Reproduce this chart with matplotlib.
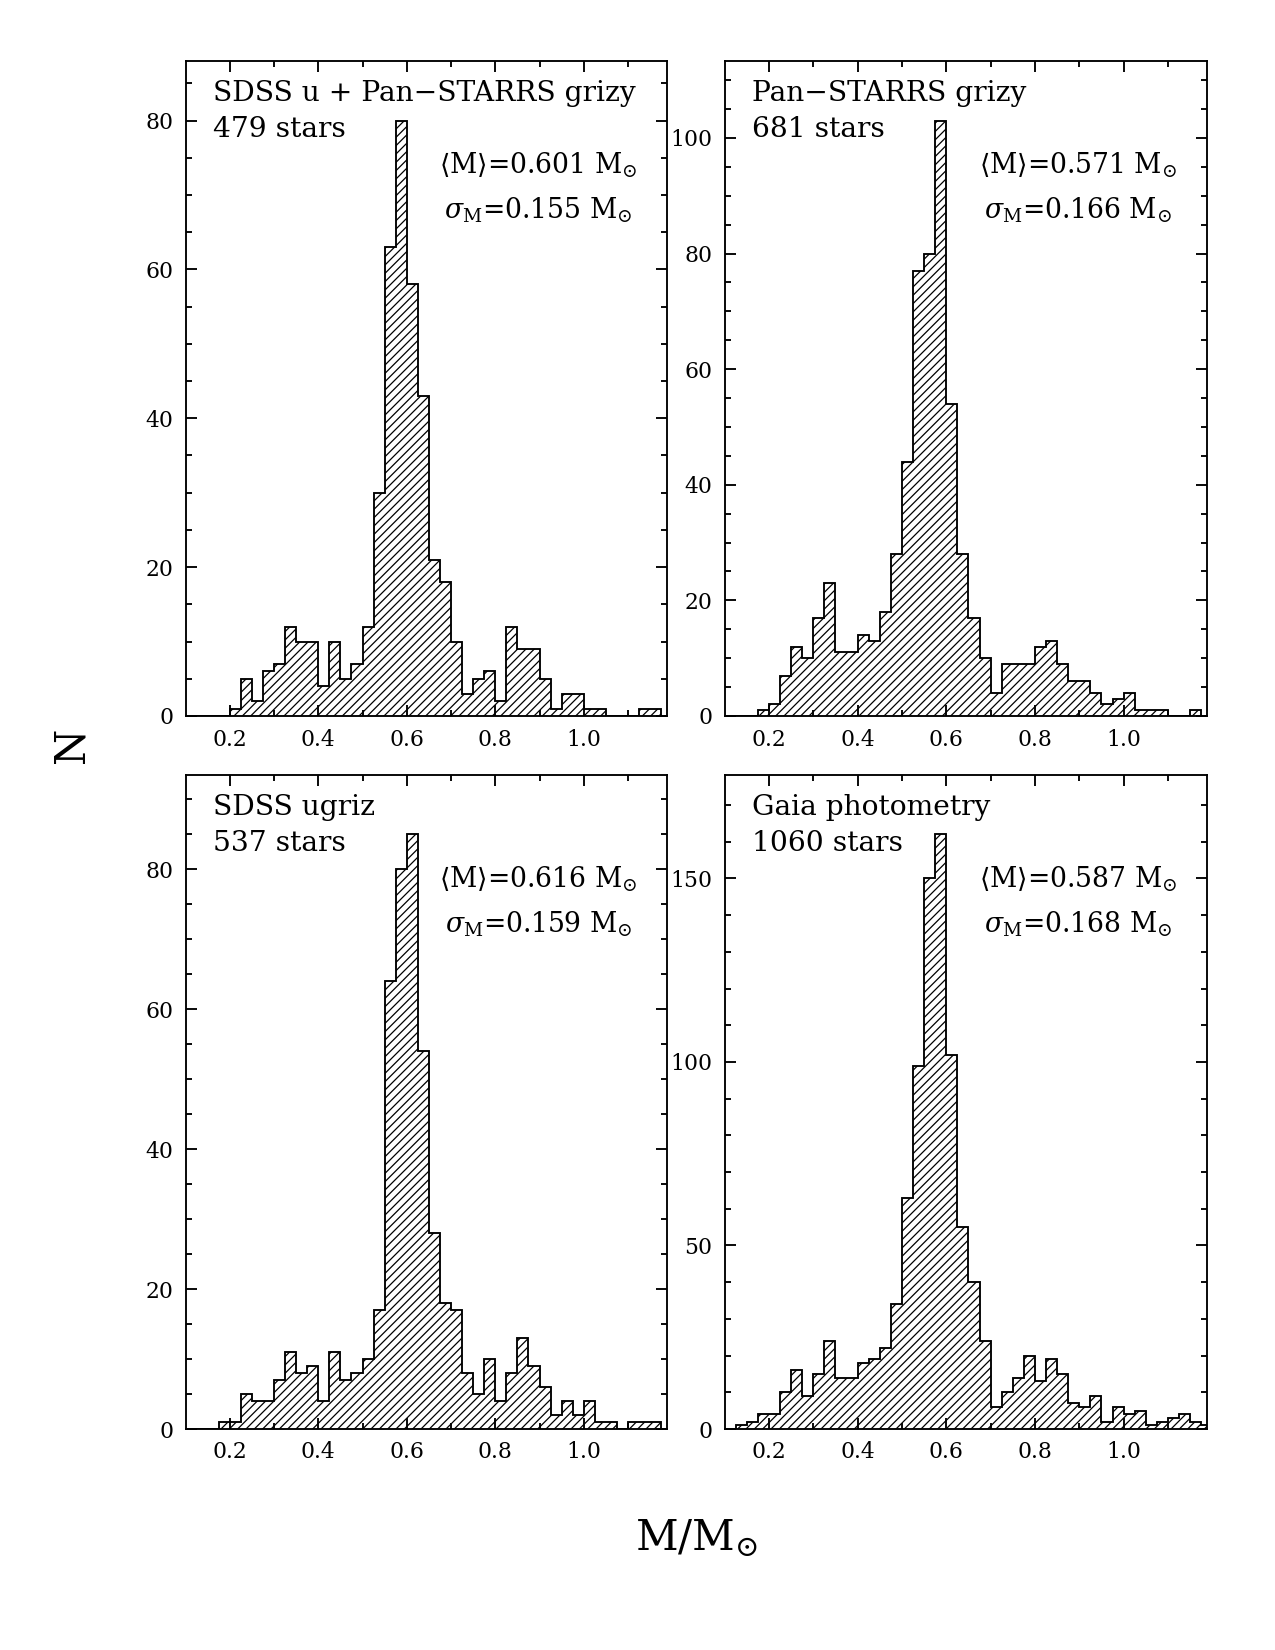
import numpy as np
import matplotlib
matplotlib.use("Agg")
import matplotlib.pyplot as plt
from matplotlib.ticker import MultipleLocator, FuncFormatter

plt.rcParams['mathtext.fontset'] = 'dejavuserif'
plt.rcParams['hatch.linewidth'] = 0.6
plt.rcParams['font.family'] = ['DejaVu Serif']

# Bin left edges start at 0.100, width 0.025 (44 bins up to 1.2)
bin_start = 0.100
bin_width = 0.025

counts_sdss_ps = [0, 0, 0, 0,
                  1, 5, 2, 6, 7, 12, 10, 10, 4, 10, 5, 7, 12, 30, 63, 80, 58, 43, 21, 18,
                  10, 3, 5, 6, 2, 12, 9, 9, 5, 1, 3, 3, 1, 1, 0, 0, 0, 1, 1, 0]
counts_ps = [0, 0, 0, 1,
             2, 7, 12, 10, 17, 23, 11, 11, 14, 13, 18, 28, 44, 77, 80, 103, 54, 28, 17, 10,
             4, 9, 9, 9, 12, 13, 9, 6, 6, 4, 2, 3, 4, 1, 1, 1, 0, 0, 1, 0]
counts_sdss = [0, 0, 0, 1,
               1, 5, 4, 4, 7, 11, 8, 9, 4, 11, 7, 8, 10, 17, 64, 80, 85, 54, 28, 18,
               17, 8, 5, 10, 4, 8, 13, 9, 6, 2, 4, 2, 4, 1, 1, 0, 1, 1, 1, 0]
counts_gaia = [0, 1, 2, 4,
               4, 10, 16, 9, 15, 24, 14, 14, 18, 19, 22, 34, 63, 99, 150, 162, 102, 55, 40, 24,
               6, 10, 14, 20, 13, 19, 15, 7, 6, 9, 2, 6, 4, 5, 1, 2, 3, 4, 2, 1]

titles = ["SDSS u + Pan\u2212STARRS grizy", "Pan\u2212STARRS grizy", "SDSS ugriz", "Gaia photometry"]
nstars = ["479 stars", "681 stars", "537 stars", "1060 stars"]
mean_mass = ["0.601", "0.571", "0.616", "0.587"]
sigma_mass = ["0.155", "0.166", "0.159", "0.168"]
all_counts = [counts_sdss_ps, counts_ps, counts_sdss, counts_gaia]
ymajor = [20, 20, 20, 50]
yminor = [5, 5, 5, 10]

fig = plt.figure(figsize=(8.5, 11), dpi=150)
W, H = 1275.0, 1650.0
boxes = [(186, 61, 667, 716), (725, 61, 1207, 716),
         (186, 775, 667, 1429), (725, 775, 1207, 1429)]

serif = "DejaVu Serif"
for i, (x0, y0, x1, y1) in enumerate(boxes):
    ax = fig.add_axes([x0 / W, 1 - y1 / H, (x1 - x0) / W, (y1 - y0) / H])
    c = np.array(all_counts[i], dtype=float)
    edges = bin_start + bin_width * np.arange(len(c) + 1)
    ax.stairs(c, edges, baseline=0, fill=True, facecolor='white',
              edgecolor='black', hatch='//////', linewidth=0)
    ax.stairs(c, edges, baseline=0, fill=False, color='black', linewidth=0.9)
    ax.set_xlim(0.101, 1.188)
    ax.set_ylim(0, 1.1 * c.max())
    ax.xaxis.set_major_locator(MultipleLocator(0.2))
    ax.xaxis.set_minor_locator(MultipleLocator(0.1))
    ax.yaxis.set_major_locator(MultipleLocator(ymajor[i]))
    ax.yaxis.set_minor_locator(MultipleLocator(yminor[i]))
    ax.xaxis.set_major_formatter(FuncFormatter(lambda v, p: f"{v:.1f}"))
    ax.yaxis.set_major_formatter(FuncFormatter(lambda v, p: f"{v:.0f}"))
    ax.tick_params(which='both', direction='in', top=True, right=True,
                   labelsize=10.5, width=0.9)
    ax.tick_params(which='major', length=5.5, pad=6)
    ax.tick_params(which='minor', length=2.8)
    for s in ax.spines.values():
        s.set_linewidth(0.9)
    ax.text(0.057, 0.950, titles[i], transform=ax.transAxes, fontsize=13.5,
            family=serif, va='center', ha='left')
    ax.text(0.057, 0.896, nstars[i], transform=ax.transAxes, fontsize=13.5,
            family=serif, va='center', ha='left')
    ax.text(0.733, 0.841, r'$\langle\mathrm{M}\rangle$=' + mean_mass[i] + r' M$_{\odot}$',
            transform=ax.transAxes, fontsize=12.8, family=serif, va='center', ha='center')
    ax.text(0.733, 0.772, r'$\sigma_{\mathrm{M}}$=' + sigma_mass[i] + r' M$_{\odot}$',
            transform=ax.transAxes, fontsize=12.8, family=serif, va='center', ha='center')

fig.text(71.5 / W, 1 - 745 / H, "N", rotation=90, fontsize=20, family=serif,
         ha='center', va='center')
fig.text(697 / W, 1 - 1538 / H, r"M/M$_{\odot}$", fontsize=20, family=serif,
         ha='center', va='center')

fig.savefig("out.png", dpi=150)
